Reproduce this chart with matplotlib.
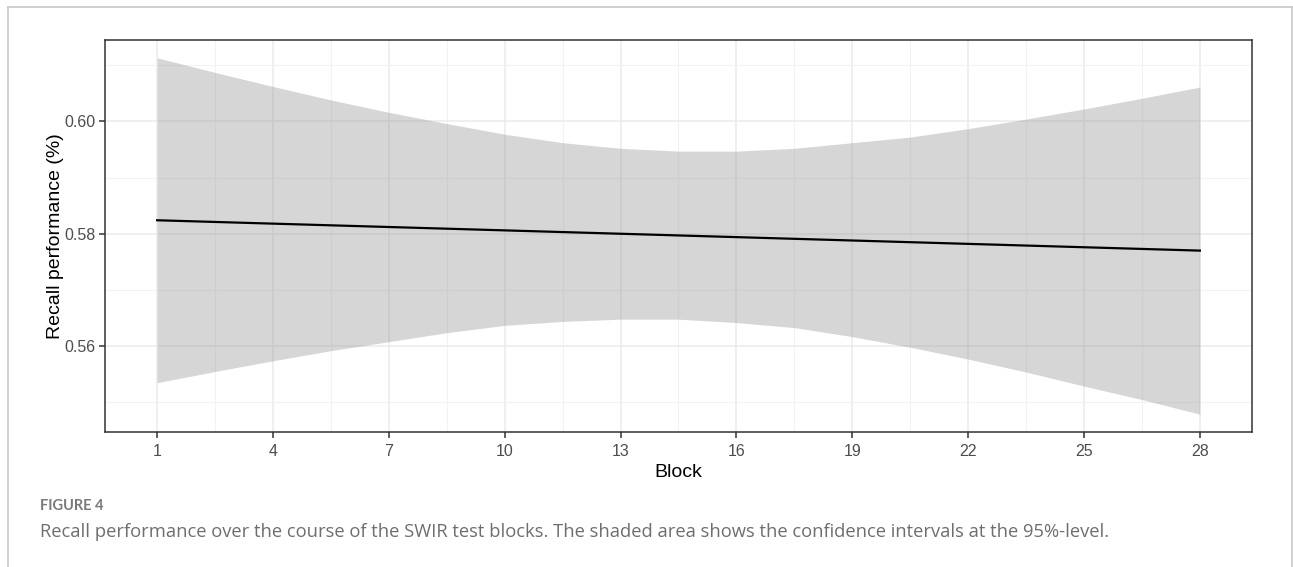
import numpy as np
import matplotlib
matplotlib.use("Agg")
import matplotlib.pyplot as plt
from matplotlib.lines import Line2D

# Values
blocks = [1, 2.5, 4, 5.5, 7, 8.5, 10, 11.5, 13, 14.5, 16, 17.5, 19, 20.5, 22, 23.5, 25, 26.5, 28]
fit = [0.5824, 0.5821, 0.5818, 0.5815, 0.5812, 0.5809, 0.5806, 0.5803, 0.5800, 0.5797,
       0.5794, 0.5791, 0.5788, 0.5785, 0.5782, 0.5779, 0.5776, 0.5773, 0.5770]
ci_upper = [0.6113, 0.6087, 0.6062, 0.6038, 0.6016, 0.5996, 0.5977, 0.5962, 0.5952, 0.5947,
            0.5947, 0.5952, 0.5962, 0.5972, 0.5987, 0.6004, 0.6022, 0.6041, 0.6061]
ci_lower = [0.5535, 0.5555, 0.5574, 0.5592, 0.5608, 0.5624, 0.5637, 0.5644, 0.5648, 0.5648,
            0.5642, 0.5633, 0.5617, 0.5598, 0.5577, 0.5554, 0.5529, 0.5505, 0.5479]
x_ticks = [1, 4, 7, 10, 13, 16, 19, 22, 25, 28]
y_ticks = [0.56, 0.58, 0.60]
y_ticklabels = ['0.56', '0.58', '0.60']

plt.rcParams['font.family'] = ['Liberation Sans', 'DejaVu Sans']

fig = plt.figure(figsize=(12.93, 5.67), dpi=100)
ax = fig.add_axes([105 / 1293, 1 - 432 / 567, 1147 / 1293, 392 / 567])

# grid (ggplot theme_bw look)
ax.set_axisbelow(True)
ax.set_xticks(x_ticks)
ax.set_yticks(y_ticks)
ax.set_xticks(np.array(x_ticks[:-1]) + 1.5, minor=True)
ax.set_yticks([0.55, 0.57, 0.59, 0.61], minor=True)
ax.grid(True, which='major', color='#ebebeb', linewidth=1.1)
ax.grid(True, which='minor', color='#f2f2f2', linewidth=0.8)

ax.fill_between(blocks, ci_lower, ci_upper, color='#999999', alpha=0.4, linewidth=0, zorder=2)
ax.plot(blocks, fit, color='black', linewidth=1.6, zorder=3)

lo = min(ci_lower)
hi = max(ci_upper)
pad = (hi - lo) * 0.05
ax.set_ylim(lo - pad, hi + pad)
ax.set_xlim(1 - 27 * 0.05, 28 + 27 * 0.05)

ax.set_yticklabels(y_ticklabels)
for s in ax.spines.values():
    s.set_color('#333333')
    s.set_linewidth(1.1)
ax.tick_params(which='major', length=4, width=1.1, color='#333333', labelsize=11.5,
               labelcolor='#4d4d4d')
ax.tick_params(axis='x', pad=5)
ax.tick_params(axis='y', pad=3)
ax.tick_params(which='minor', length=0)

ax.set_xlabel('Block', fontsize=14, color='black', labelpad=3)
ax.set_ylabel('Recall performance (%)', fontsize=14, color='black', labelpad=0)

# page frame around the figure
fc = '#c8c8c8'
fig.add_artist(Line2D([7.5 / 1293, 7.5 / 1293], [0, 1 - 7 / 567], color=fc, linewidth=1.2,
                      transform=fig.transFigure))
fig.add_artist(Line2D([1291.5 / 1293, 1291.5 / 1293], [0, 1 - 7 / 567], color=fc, linewidth=1.2,
                      transform=fig.transFigure))
fig.add_artist(Line2D([7.5 / 1293, 1291.5 / 1293], [1 - 7 / 567, 1 - 7 / 567], color=fc,
                      linewidth=1.2, transform=fig.transFigure))

# caption
fig.text(40 / 1293, 1 - 506 / 567, 'FIGURE 4', fontsize=10.5, fontweight='bold',
         color='#7a7a7a', family=['Lato', 'DejaVu Sans'], va='center', ha='left')
fig.text(40 / 1293, 1 - 532 / 567,
         'Recall performance over the course of the SWIR test blocks. '
         'The shaded area shows the confidence intervals at the 95%-level.',
         fontsize=13.2, color='#6e6e6e', family=['Open Sans', 'DejaVu Sans'], va='center', ha='left')

plt.savefig('out.png', dpi=100)
